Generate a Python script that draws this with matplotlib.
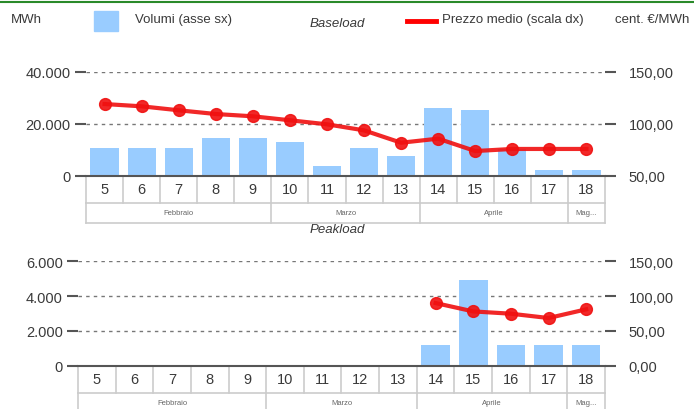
import numpy as np
import matplotlib.pyplot as plt
from matplotlib.ticker import FuncFormatter

plt.rcParams['font.family'] = ['Liberation Sans', 'DejaVu Sans']

giorni = ['5', '6', '7', '8', '9', '10', '11', '12', '13', '14', '15', '16', '17', '18']
mesi = ['Febbraio', 'Marzo', 'Aprile', 'Mag...']
mesi_n = [5, 4, 4, 1]  # numero di colonne per mese

base_vol = [10800, 10800, 10800, 14600, 14600, 13200, 3700, 10800, 7700, 26300, 25500, 10400, 2300, 2200]
base_prezzo = [119.2, 117.0, 113.2, 109.6, 107.4, 103.6, 99.7, 93.9, 82.0, 85.9, 74.0, 76.0, 76.0, 76.0]

peak_vol = [0, 0, 0, 0, 0, 0, 0, 0, 0, 1200, 4900, 1200, 1200, 1200]
peak_prezzo = [np.nan] * 9 + [90.0, 78.0, 74.7, 68.5, 81.0]

BLU = '#99ccff'
ROSSO = '#f01010'
GRIGIO = '#3a3a3a'
LINEE = '#cccccc'

def fmt_sx(v, pos):
    return '{:,.0f}'.format(v).replace(',', '.')

def fmt_dx(v, pos):
    return '{:.2f}'.format(v).replace('.', ',')

fig = plt.figure(figsize=(6.94, 4.10), dpi=100)

def pannello(rect, vol, prezzo, ylim_sx, yt_sx, ylim_dx, yt_dx, h_px):
    ax = fig.add_axes(rect)
    x = np.arange(len(giorni))
    ax.bar(x, vol, width=0.76, color=BLU, zorder=2)
    ax.set_xlim(-0.5, len(giorni) - 0.5)
    ax.set_ylim(*ylim_sx)
    ax.set_yticks(yt_sx)
    ax.yaxis.set_major_formatter(FuncFormatter(fmt_sx))
    for s in ['top', 'right', 'left']:
        ax.spines[s].set_visible(False)
    ax.spines['bottom'].set_color('#555555')
    ax.spines['bottom'].set_linewidth(1.5)
    ax.set_xticks([])
    ax.tick_params(axis='y', length=8, width=1.5, color='#555555', pad=3,
                   labelsize=10.5, labelcolor=GRIGIO)
    for v in yt_sx[1:]:
        ax.axhline(v, color='#777777', lw=1, ls=(0, (2.5, 3)), zorder=1)

    ax2 = ax.twinx()
    ax2.plot(x, prezzo, color=ROSSO, lw=3, marker='o', ms=8.5, alpha=0.9, zorder=3)
    ax2.set_ylim(*ylim_dx)
    ax2.set_yticks(yt_dx)
    ax2.yaxis.set_major_formatter(FuncFormatter(fmt_dx))
    for s in ['top', 'left', 'bottom', 'right']:
        ax2.spines[s].set_visible(False)
    ax2.tick_params(axis='y', length=8, width=1.5, color='#555555', pad=9,
                    labelsize=10.5, labelcolor=GRIGIO)

    # tabella delle categorie sotto l'asse
    tr = ax.get_xaxis_transform()
    r1 = -27.0 / h_px
    r2 = -47.0 / h_px
    n = len(giorni)
    kw = dict(color=LINEE, lw=1.2, transform=tr, clip_on=False, zorder=0)
    ax.plot([-0.5, n - 0.5], [r1, r1], **kw)
    ax.plot([-0.5, n - 0.5], [r2, r2], **kw)
    for i in range(n + 1):
        ax.plot([i - 0.5, i - 0.5], [0, r1], **kw)
    for i, g in enumerate(giorni):
        ax.text(i, r1 / 2, g, transform=tr, ha='center', va='center',
                fontsize=10.5, color=GRIGIO)
    pos = 0
    ax.plot([-0.5, -0.5], [r1, r2], **kw)
    for m, k in zip(mesi, mesi_n):
        ax.plot([pos + k - 0.5, pos + k - 0.5], [r1, r2], **kw)
        ax.text(pos + (k - 1) / 2, (r1 + r2) / 2, m, transform=tr, ha='center',
                va='center', fontsize=5.5, color='#666666')
        pos += k
    return ax

# Baseload: asse da y=177 a y=73 px
pannello([86 / 694, 1 - 177 / 410, 519 / 694, 104 / 410], base_vol, base_prezzo,
         (0, 40000), [0, 20000, 40000], (50, 150), [50, 100, 150], 104)
# Peakload: asse da y=366.7 a y=262.3 px
pannello([78 / 694, 1 - 366.7 / 410, 527 / 694, 104.4 / 410], peak_vol, peak_prezzo,
         (0, 6000), [0, 2000, 4000, 6000], (0, 150), [0, 50, 100, 150], 104.4)

# intestazione e legenda
fig.add_artist(plt.Line2D([0, 1], [1 - 2.5 / 410, 1 - 2.5 / 410], color='#2a8a2a', lw=1.5))
fig.text(11 / 694, 1 - 20 / 410, 'MWh', fontsize=9.5, color=GRIGIO, va='center')
fig.add_artist(plt.Rectangle((94 / 694, 1 - 32 / 410), 24 / 694, 20 / 410, color=BLU))
fig.text(135 / 694, 1 - 20 / 410, 'Volumi (asse sx)', fontsize=9.5, color=GRIGIO, va='center')
fig.text(310 / 694, 1 - 24 / 410, 'Baseload', fontsize=9.5, style='italic', color=GRIGIO, va='center')
fig.add_artist(plt.Line2D([407 / 694, 436 / 694], [1 - 22 / 410, 1 - 22 / 410], color='#ff0000', lw=3.5))
fig.text(442 / 694, 1 - 20 / 410, 'Prezzo medio (scala dx)', fontsize=9.5, color=GRIGIO, va='center')
fig.text(615 / 694, 1 - 20 / 410, 'cent. €/MWh', fontsize=9.5, color=GRIGIO, va='center')
fig.text(310 / 694, 1 - 230 / 410, 'Peakload', fontsize=9.5, style='italic', color=GRIGIO, va='center')

fig.savefig('out.png', dpi=100)
